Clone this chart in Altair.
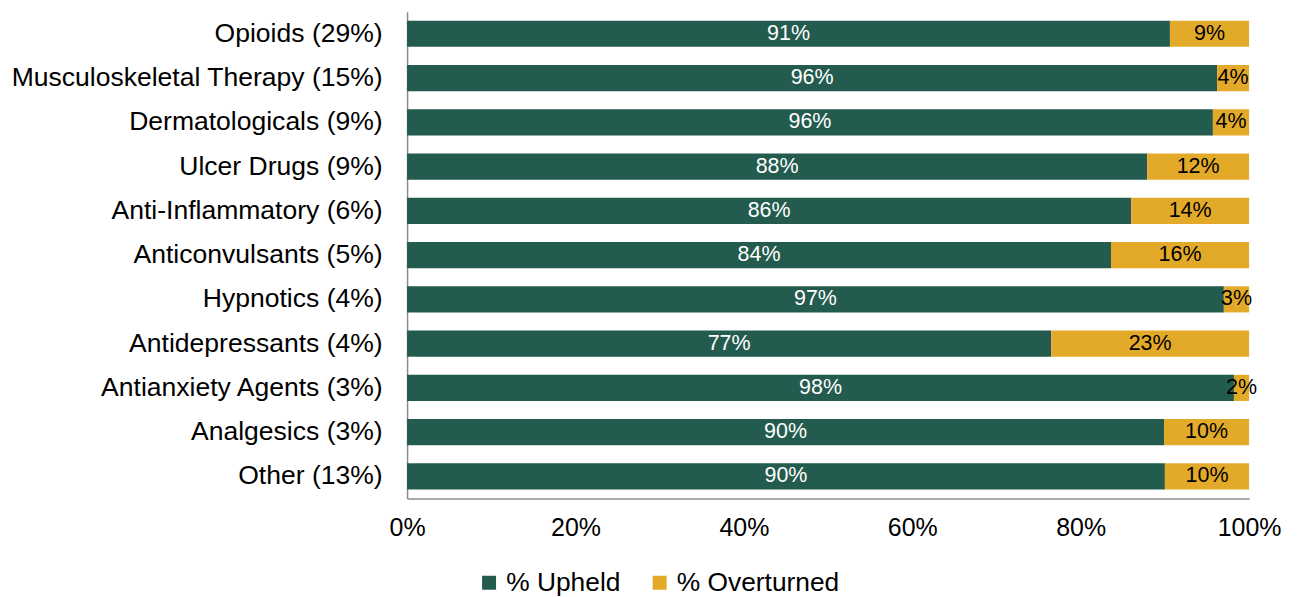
import altair as alt
import pandas as pd

categories = ["Opioids (29%)", "Musculoskeletal Therapy (15%)", "Dermatologicals (9%)",
              "Ulcer Drugs (9%)", "Anti-Inflammatory (6%)", "Anticonvulsants (5%)",
              "Hypnotics (4%)", "Antidepressants (4%)", "Antianxiety Agents (3%)",
              "Analgesics (3%)", "Other (13%)"]
upheld = [90.6, 96.2, 95.7, 87.9, 86.0, 83.6, 97.0, 76.5, 98.2, 89.9, 90.0]
overturned = [100 - u for u in upheld]
upheld_labels = ["91%", "96%", "96%", "88%", "86%", "84%", "97%", "77%", "98%", "90%", "90%"]
overturned_labels = ["9%", "4%", "4%", "12%", "14%", "16%", "3%", "23%", "2%", "10%", "10%"]
series = ["% Upheld", "% Overturned"]
colors = ["#235B4E", "#E3AA29"]

rows = []
for c, u, o, ul, ol in zip(categories, upheld, overturned, upheld_labels, overturned_labels):
    rows.append(dict(cat=c, series=series[0], ord=0, start=0, end=u / 100,
                     mid=u / 200, label=ul))
    rows.append(dict(cat=c, series=series[1], ord=1, start=u / 100, end=1.0,
                     mid=(u / 100 + 1) / 2, label=ol))
df = pd.DataFrame(rows)

FONT = "Liberation Sans"

y_enc = alt.Y("cat:N", sort=categories, title=None,
              scale=alt.Scale(paddingInner=0.41, paddingOuter=0.205),
              axis=alt.Axis(labelFontSize=26.6, labelFont=FONT, labelColor="#000000",
                            labelPadding=25, ticks=False, domainColor="#8c8c8c",
                            domainWidth=1.5, labelLimit=600))

bars = alt.Chart(df).mark_bar().encode(
    y=y_enc,
    x=alt.X("start:Q", title=None,
            scale=alt.Scale(domain=[0, 1], nice=False),
            axis=alt.Axis(format=".0%", values=[0, 0.2, 0.4, 0.6, 0.8, 1.0],
                          labelFontSize=25, labelFont=FONT, labelColor="#000000",
                          labelPadding=17, labelFlush=False, ticks=False, grid=False,
                          domainColor="#8c8c8c", domainWidth=1.5)),
    x2="end:Q",
    color=alt.Color("series:N", sort=series,
                    scale=alt.Scale(domain=series, range=colors),
                    legend=alt.Legend(title=None, orient="none", direction="horizontal",
                                      legendX=69, legendY=559,
                                      labelFontSize=26.4, labelFont=FONT, labelColor="#000000",
                                      labelLimit=400,
                                      symbolType="square", symbolSize=196,
                                      symbolStrokeWidth=0, labelOffset=4,
                                      columnPadding=26)),
    order=alt.Order("ord:Q"),
)

text = alt.Chart(df).mark_text(fontSize=21.5, font=FONT, baseline="middle").encode(
    y=alt.Y("cat:N", sort=categories),
    x=alt.X("mid:Q"),
    text="label:N",
    color=alt.Color("series:N", scale=alt.Scale(domain=series, range=["#ffffff", "#000000"]),
                    legend=None),
)

chart = alt.layer(bars, text).resolve_scale(color="independent").properties(
    width=844, height=488,
    autosize=alt.AutoSizeParams(type="none"),
    padding={"left": 400, "top": 3, "right": 40, "bottom": 97},
).configure_view(stroke=None)

chart.save("out.html", embed_options={"renderer": "svg", "actions": False})
